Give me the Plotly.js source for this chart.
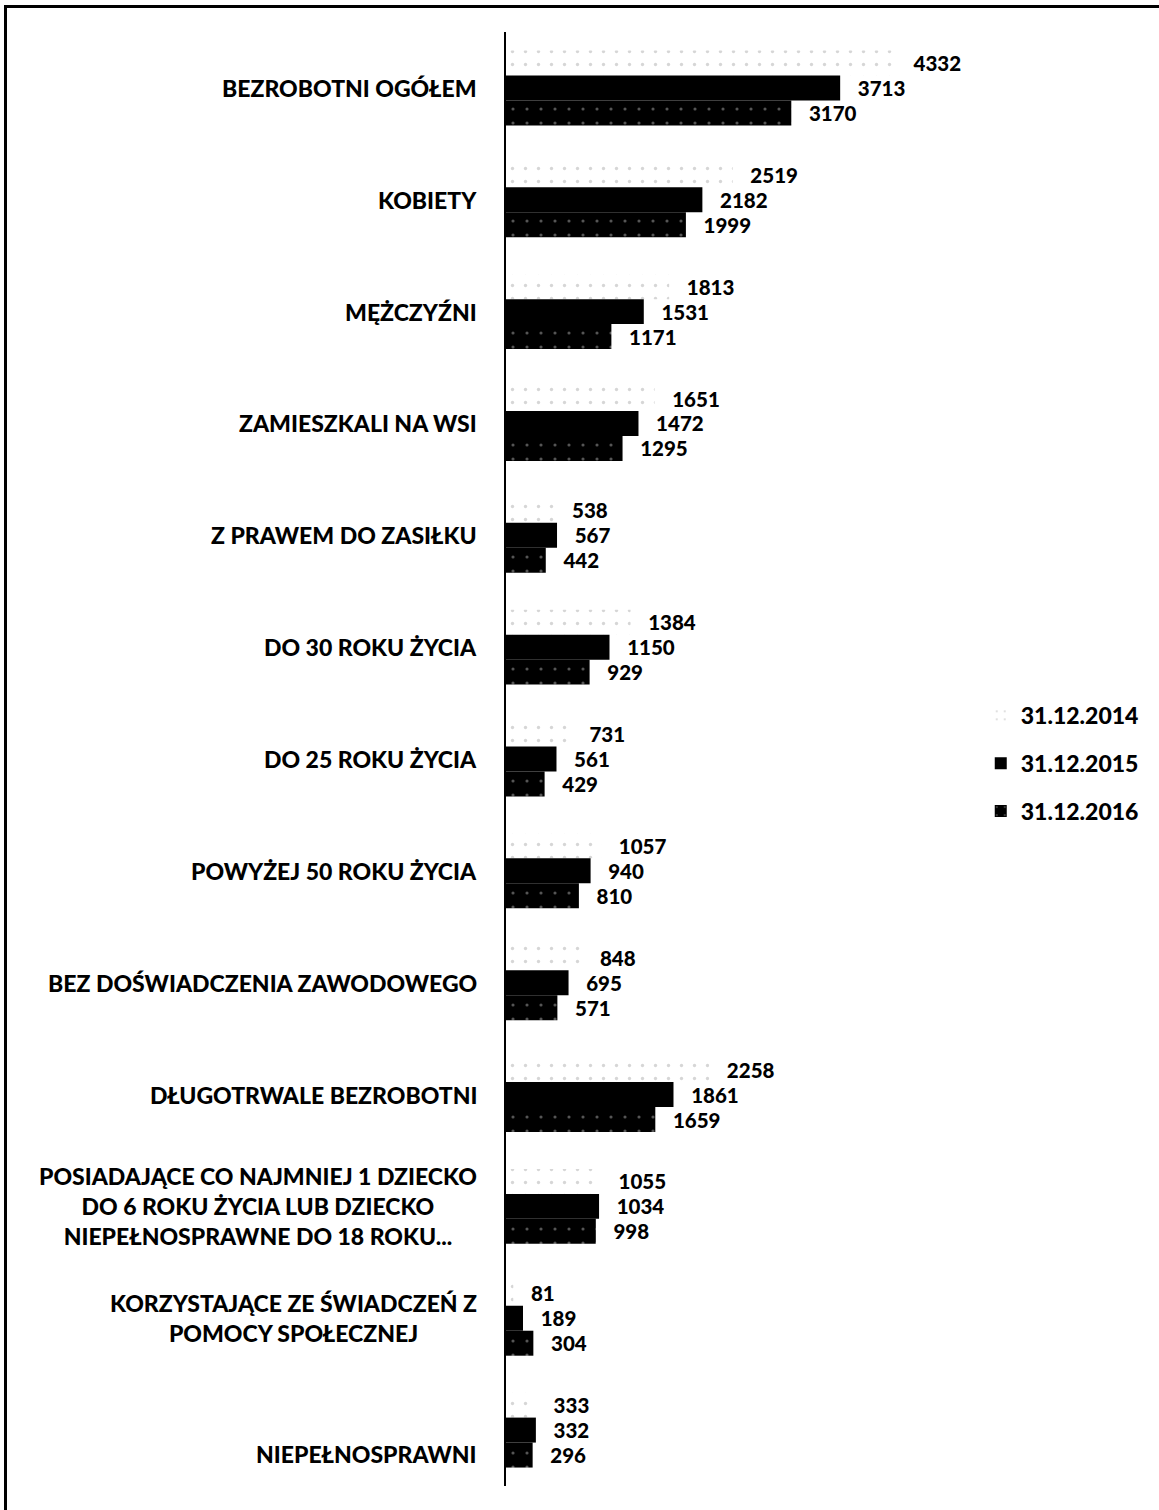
<!DOCTYPE html>
<html>
<head>
<meta charset="utf-8">
<script src="https://cdn.plot.ly/plotly-3.0.1.min.js"></script>
<style>
  html, body { margin: 0; padding: 0; background: #fff; }
  #wrap { position: absolute; left: 0; top: 0; width: 1159px; height: 1510px; }
  #frame { position: absolute; left: 4px; top: 5px; width: 1155px; height: 1505px;
           border-left: 3px solid #000; border-top: 3px solid #000; pointer-events: none; }
  #chart { position: absolute; left: 0; top: 0; width: 1159px; height: 1510px; }
</style>
</head>
<body>
<div id="wrap">
  <div id="chart"></div>
  <div id="frame"></div>
</div>
<script>
const categories = [
  "BEZROBOTNI OGÓŁEM",
  "KOBIETY",
  "MĘŻCZYŹNI",
  "ZAMIESZKALI NA WSI",
  "Z PRAWEM DO ZASIŁKU",
  "DO 30 ROKU ŻYCIA",
  "DO 25 ROKU ŻYCIA",
  "POWYŻEJ 50 ROKU ŻYCIA",
  "BEZ DOŚWIADCZENIA ZAWODOWEGO",
  "DŁUGOTRWALE BEZROBOTNI",
  "POSIADAJĄCE CO NAJMNIEJ 1 DZIECKO<br>DO 6 ROKU ŻYCIA LUB DZIECKO<br>NIEPEŁNOSPRAWNE DO 18 ROKU...",
  "KORZYSTAJĄCE ZE ŚWIADCZEŃ Z<br>POMOCY SPOŁECZNEJ",
  "NIEPEŁNOSPRAWNI"
];
const seriesNames = ["31.12.2014", "31.12.2015", "31.12.2016"];
const values2014 = [4332, 2519, 1813, 1651, 538, 1384, 731, 1057, 848, 2258, 1055, 81, 333];
const values2015 = [3713, 2182, 1531, 1472, 567, 1150, 561, 940, 695, 1861, 1034, 189, 332];
const values2016 = [3170, 1999, 1171, 1295, 442, 929, 429, 810, 571, 1659, 998, 304, 296];

const FONT = "Lato, 'Open Sans', 'DejaVu Sans', sans-serif";
const pad = "\u00a0\u00a0\u00a0";

function mk(name, vals, marker, grp) {
  return {
    type: "bar",
    orientation: "h",
    name: name,
    legendgroup: grp,
    x: vals,
    y: categories,
    text: vals.map(v => pad + v),
    textposition: "outside",
    cliponaxis: false,
    textfont: { family: FONT, size: 23, color: "#000", weight: 900 },
    marker: marker,
    hoverinfo: "x+name"
  };
}

const traces = [
  mk(seriesNames[0], values2014, {
    color: "#ffffff",
    line: { width: 0 },
    pattern: { shape: ".", fgcolor: "#d6d6d6", bgcolor: "#ffffff", size: 13, solidity: 0.05 }
  }, "a"),
  mk(seriesNames[1], values2015, { color: "#000000", line: { width: 0 } }, "b"),
  mk(seriesNames[2], values2016, {
    color: "#000000",
    line: { width: 0 },
    pattern: { shape: ".", fgcolor: "#555555", bgcolor: "#000000", size: 14, solidity: 0.04 }
  }, "c")
];

const annotations = categories.map((c, i) => ({
  xref: "paper", yref: "y",
  x: 0, y: c,
  xanchor: "right", yanchor: "middle",
  xshift: -27,
  yshift: (i === categories.length - 1) ? -24 : 0,
  align: "center",
  text: c,
  showarrow: false,
  font: { family: FONT, size: 23, color: "#000", weight: 900 }
}));

const layout = {
  width: 1159,
  height: 1510,
  margin: { l: 506, r: 203, t: 32, b: 24, pad: 0 },
  paper_bgcolor: "#ffffff",
  plot_bgcolor: "#ffffff",
  barmode: "group",
  bargap: 0.33,
  bargroupgap: 0,
  showlegend: true,
  legend: {
    x: 1.055, y: 0.497, xanchor: "left", yanchor: "middle",
    traceorder: "grouped",
    tracegroupgap: 15,
    font: { family: FONT, size: 23, color: "#000", weight: 900 },
    itemwidth: 30,
    bgcolor: "rgba(0,0,0,0)"
  },
  xaxis: {
    range: [0, 5000],
    showgrid: false, zeroline: false, showline: false,
    showticklabels: false, ticks: "", fixedrange: true
  },
  yaxis: {
    type: "category",
    autorange: "reversed",
    showgrid: false, zeroline: false,
    showline: true, linecolor: "#000", linewidth: 2,
    showticklabels: false, ticks: "", fixedrange: true
  },
  annotations: annotations,
  font: { family: FONT, color: "#000" }
};

Plotly.newPlot("chart", traces, layout, { displayModeBar: false, staticPlot: true });
</script>
</body>
</html>
